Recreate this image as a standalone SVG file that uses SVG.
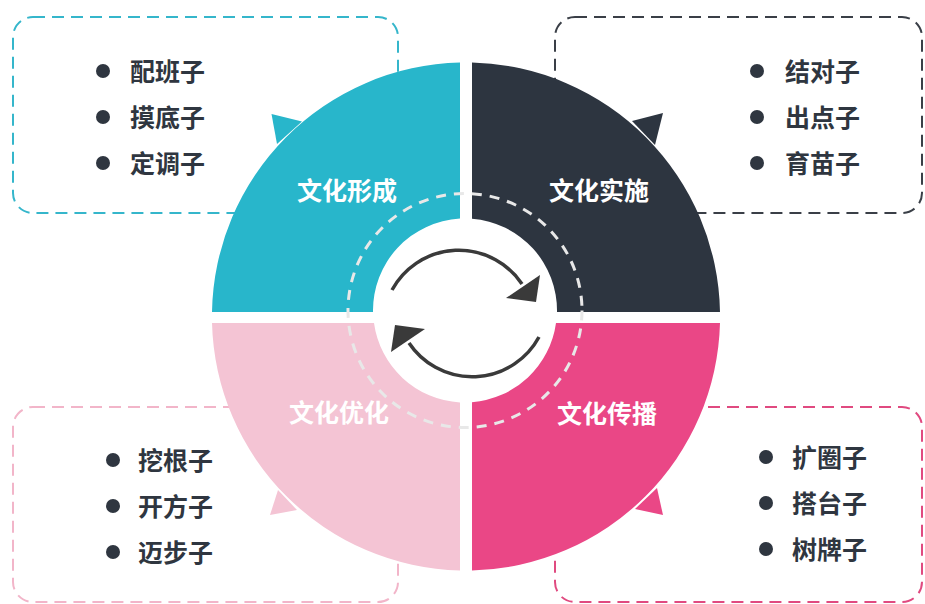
<svg xmlns="http://www.w3.org/2000/svg" width="925" height="604" viewBox="0 0 925 604">
<style>
.box{fill:none;stroke-width:2;stroke-dasharray:12 7}
.item{font-family:"Noto Sans CJK SC","Noto Sans",sans-serif;font-weight:700;font-size:25px;fill:#2f3640;dominant-baseline:central}
.label{font-family:"Noto Sans CJK SC","Noto Sans",sans-serif;font-weight:700;font-size:25px;fill:#ffffff;text-anchor:middle;dominant-baseline:central}
.dot{fill:#2f3640}
.arc{fill:none;stroke:#3a3a3a;stroke-width:3.5}
</style>
<rect width="925" height="604" fill="#ffffff"/>
<g id="box-formation">
<rect class="box" x="13" y="17" width="385" height="196" rx="20" stroke="#35b6cb"/>
<circle class="dot" cx="103" cy="71" r="7"/><text class="item" x="130" y="69.5">配班子</text>
<circle class="dot" cx="103" cy="117" r="7"/><text class="item" x="130" y="115.5">摸底子</text>
<circle class="dot" cx="103" cy="163" r="7"/><text class="item" x="130" y="161.5">定调子</text>
</g>
<g id="box-implementation">
<rect class="box" x="555" y="17" width="367" height="196" rx="20" stroke="#3a3f47"/>
<circle class="dot" cx="757" cy="71" r="7"/><text class="item" x="785" y="69.5">结对子</text>
<circle class="dot" cx="757" cy="117" r="7"/><text class="item" x="785" y="115.5">出点子</text>
<circle class="dot" cx="757" cy="163" r="7"/><text class="item" x="785" y="161.5">育苗子</text>
</g>
<g id="box-optimization">
<rect class="box" x="13" y="407" width="385" height="195" rx="20" stroke="#f2b5c9"/>
<circle class="dot" cx="113" cy="460" r="7"/><text class="item" x="138" y="458.5">挖根子</text>
<circle class="dot" cx="113" cy="506" r="7"/><text class="item" x="138" y="504.5">开方子</text>
<circle class="dot" cx="113" cy="552" r="7"/><text class="item" x="138" y="550.5">迈步子</text>
</g>
<g id="box-spread">
<rect class="box" x="555" y="407" width="367" height="195" rx="20" stroke="#e04a80"/>
<circle class="dot" cx="766" cy="457" r="7"/><text class="item" x="792" y="455.5">扩圈子</text>
<circle class="dot" cx="766" cy="503" r="7"/><text class="item" x="792" y="501.5">搭台子</text>
<circle class="dot" cx="766" cy="549" r="7"/><text class="item" x="792" y="547.5">树牌子</text>
</g>
<g id="q-formation" fill="#28b6cb">
<path d="M460,312 L373,312 A92,92 0 0 1 460,218.6 L460,62.6 A254,254 0 0 0 212,312 Z"/>
<polygon points="271.5,114 302,121.5 277,144"/>
<text class="label" x="347" y="188.5">文化形成</text>
</g>
<g id="q-implementation" fill="#2d3540">
<path d="M472,312 L557,312 A92,92 0 0 0 472,218.8 L472,62.6 A254,254 0 0 1 720,312 Z"/>
<polygon points="663,113 632,121 655,145"/>
<text class="label" x="599" y="188.5">文化实施</text>
</g>
<g id="q-optimization" fill="#f4c4d4">
<path d="M460,323 L374,323 A92,92 0 0 0 460,402.4 L460,570.4 A254,254 0 0 1 212,323 Z"/>
<polygon points="270,515 297,510 278,490"/>
<text class="label" x="339" y="410.5">文化优化</text>
</g>
<g id="q-spread" fill="#ea4786">
<path d="M472,323 L556,323 A92,92 0 0 1 472,402.2 L472,570.4 A254,254 0 0 0 720,323 Z"/>
<polygon points="663,515 635,509 657,488"/>
<text class="label" x="607" y="411.5">文化传播</text>
</g>
<circle id="dashed-ring" cx="465" cy="310.5" r="117" fill="none" stroke="#e8e8e8" stroke-width="3" stroke-dasharray="10 8"/>
<g id="connectors">
<path class="arc" d="M392,290 A76,76 0 0 1 522,284"/>
<polygon points="540,275 506,298 536,302" fill="#3a3a3a"/>
<path class="arc" d="M539,337 A76,76 0 0 1 409,343"/>
<polygon points="391,352 425,329 395,325" fill="#3a3a3a"/>
</g>
</svg>
